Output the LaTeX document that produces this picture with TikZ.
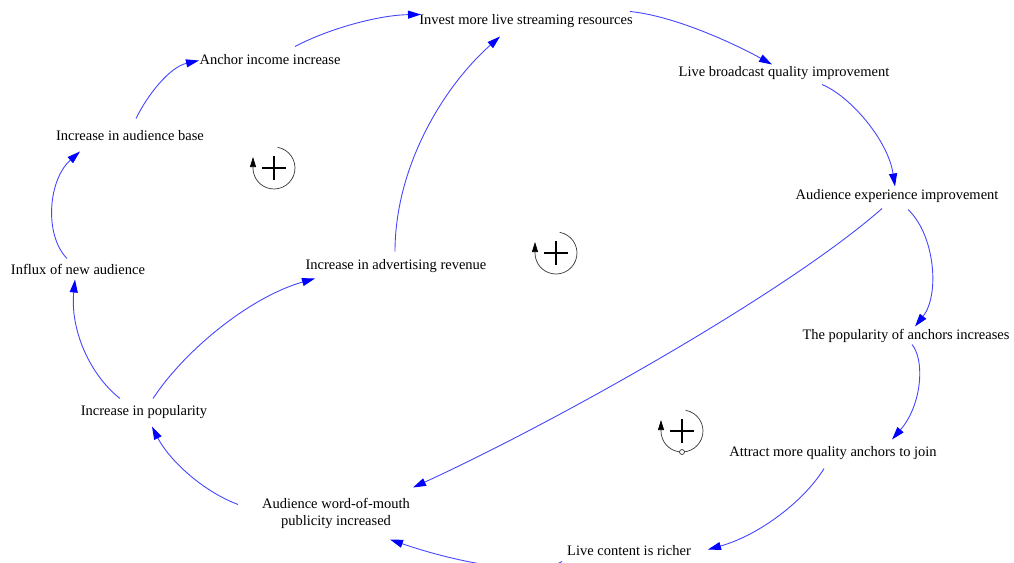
\documentclass[tikz,border=0pt]{standalone}
\usepackage{fontspec}
\setmainfont{Liberation Serif}
\usetikzlibrary{arrows.meta,calc}
\definecolor{linkblue}{RGB}{70,70,255}
\begin{document}
\begin{tikzpicture}[x=1pt,y=-1pt,
  var/.style={inner sep=0pt,font=\fontsize{14.5}{17}\selectfont,text=black,yshift=-1.5pt},
  link/.style={draw=linkblue,line width=0.9pt,-{Triangle[length=13pt,width=8pt,color=blue]}},
  loopc/.style={draw=black!80,line width=0.7pt},
  loopplus/.style={draw=black,line width=1.6pt}
]
\useasboundingbox (0,0) rectangle (1014,562);
% variables
\node[var] (inv)    at (526,20)  {Invest more live streaming resources};
\node[var] (anc)    at (270,58)  {Anchor income increase};
\node[var] (lbq)    at (784,72)  {Live broadcast quality improvement};
\node[var] (base)   at (130,134) {Increase in audience base};
\node[var] (aexp)   at (897,195) {Audience experience improvement};
\node[var] (influx) at (78,268)  {Influx of new audience};
\node[var] (adv)    at (396,265) {Increase in advertising revenue};
\node[var] (popa)   at (906,334) {The popularity of anchors increases};
\node[var] (pop)    at (144,411) {Increase in popularity};
\node[var] (attr)   at (833,452) {Attract more quality anchors to join};
\node[var,align=center] (wom) at (336,512) {Audience word-of-mouth\\publicity increased};
\node[var] (rich)   at (629,549) {Live content is richer};
% links
\draw[link] ($(base)+(6,-17)$) .. controls (148,94) and (170,67) .. ($(anc)+(-71,1)$);
\draw[link] ($(anc)+(25,-13)$) .. controls (330,28) and (380,15) .. ($(inv)+(-105,-7)$);
\draw[link] ($(inv)+(104,-10)$) .. controls (675,16) and (735,44) .. ($(lbq)+(-12,-9)$);
\draw[link] ($(lbq)+(38,11)$) .. controls (850,96) and (888,140) .. ($(aexp)+(-2,-10)$);
\draw[link] ($(aexp)+(11,13)$) .. controls (935,235) and (940,295) .. ($(popa)+(9,-9)$);
\draw[link] ($(popa)+(6,9)$) .. controls (925,360) and (922,405) .. ($(attr)+(59,-14)$);
\draw[link] ($(attr)+(-9,15)$) .. controls (805,500) and (760,535) .. ($(rich)+(79,-1)$);
\draw[link] ($(rich)+(-67,11)$) .. controls (535,578) and (455,562) .. ($(wom)+(54,26)$);
\draw[link] ($(aexp)+(-15,12)$) .. controls (790,290) and (560,420) .. ($(wom)+(77,-26)$);
\draw[link] ($(wom)+(-98,-9)$) .. controls (200,490) and (168,458) .. ($(pop)+(8,14)$);
\draw[link] ($(pop)+(-24,-14)$) .. controls (90,375) and (70,330) .. ($(influx)+(-3,10)$);
\draw[link] ($(influx)+(-11,-11)$) .. controls (44,235) and (48,180) .. ($(base)+(-50,16)$);
\draw[link] ($(pop)+(9,-14)$) .. controls (185,350) and (250,297) .. ($(adv)+(-81,12)$);
\draw[link] ($(adv)+(-1,-15)$) .. controls (395,170) and (440,90) .. ($(inv)+(-26,15)$);
% loop symbols
\foreach \cx/\cy/\dot in {274/168/0,556/253/0,682/431/1}{
  \draw[loopc,-{Triangle[length=10pt,width=6pt,color=black]}] (\cx,\cy) ++(-80:21) arc[start angle=-80,end angle=180,radius=21] -- ++(0,-11);
  \draw[loopplus] (\cx-12,\cy) -- (\cx+12,\cy) (\cx,\cy-12) -- (\cx,\cy+12);
  \ifnum\dot=1 \draw[loopc,fill=white] (\cx,\cy+21) circle[radius=2.5];\fi
}
\end{tikzpicture}
\end{document}
